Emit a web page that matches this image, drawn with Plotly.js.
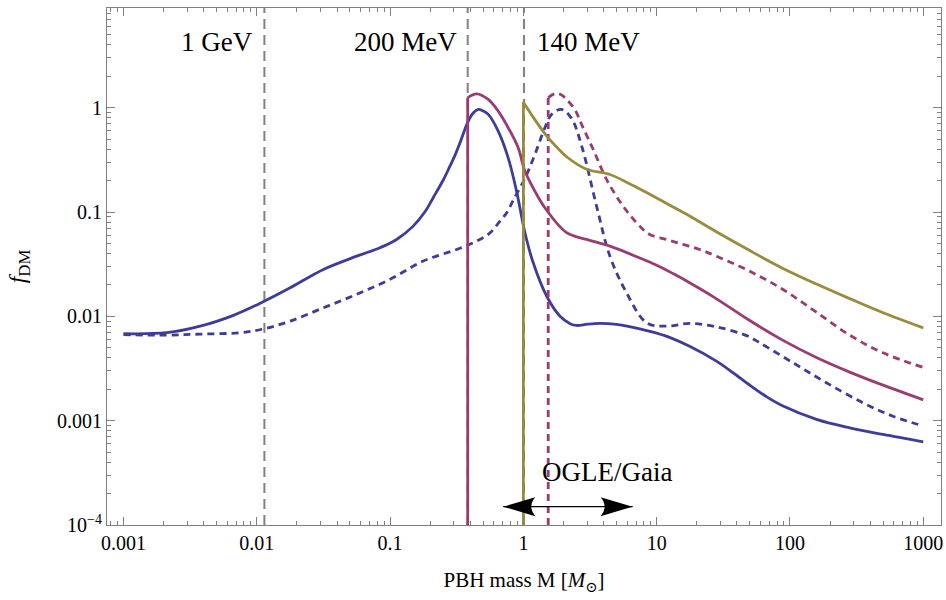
<!DOCTYPE html>
<html><head><meta charset="utf-8">
<script src="https://cdn.plot.ly/plotly-3.0.1.min.js"></script>
<style>html,body{margin:0;padding:0;background:#fff}</style>
</head><body><div id="chart" style="width:946px;height:600px"></div>
<script>
// ---- data (PBH mass in solar masses, f_DM) ----
const massBlue = [0.001, 0.00211, 0.00376, 0.00668, 0.01, 0.0178, 0.0316, 0.0562, 0.084, 0.112, 0.149, 0.182, 0.211, 0.251, 0.281, 0.306, 0.336, 0.382, 0.42, 0.458, 0.50, 0.545, 0.647, 0.769, 0.889, 1.026, 1.183, 1.493, 1.875, 2.24, 2.51, 3.02, 3.74, 5.0, 7.46, 11.8, 17.8, 28.05, 37.4, 49.9, 66.5, 88.7, 158, 281, 499, 1000];
const fBlue = [0.00681, 0.00697, 0.00805, 0.01023, 0.01288, 0.01879, 0.02818, 0.03776, 0.0455, 0.0546, 0.0733, 0.100, 0.138, 0.204, 0.275, 0.347, 0.468, 0.724, 0.891, 0.964, 0.93, 0.863, 0.597, 0.331, 0.158, 0.0637, 0.0328, 0.01567, 0.01007, 0.00851, 0.00818, 0.00841, 0.00855, 0.00836, 0.00759, 0.00646, 0.00513, 0.00372, 0.00288, 0.00219, 0.0017, 0.00138, 0.00103, 0.000855, 0.000738, 0.000628];

const massBlueDot = [0.001, 0.00211, 0.00376, 0.0075, 0.01135, 0.0178, 0.0316, 0.0562, 0.1, 0.1775, 0.316, 0.446, 0.562, 0.667, 0.748, 0.839, 1.026, 1.219, 1.449, 1.626, 1.93, 2.296, 2.75, 3.54, 4.457, 5.94, 8.39, 11.83, 17.7, 28.05, 48.4, 59.3, 105.4, 187.5, 352, 592, 1000];
const fBlueDot = [0.00668, 0.00661, 0.00676, 0.00697, 0.0076, 0.0090, 0.01208, 0.01626, 0.02265, 0.0339, 0.0438, 0.0526, 0.0631, 0.082, 0.098, 0.13, 0.21, 0.356, 0.643, 0.863, 0.964, 0.79, 0.42, 0.114, 0.03776, 0.01683, 0.00869, 0.00805, 0.00855, 0.00794, 0.00646, 0.00558, 0.00359, 0.00231, 0.001486, 0.001104, 0.00089];

const massPurple = [0.382, 0.446, 0.545, 0.647, 0.769, 0.914, 1.026, 1.219, 1.449, 2.109, 2.979, 4.457, 7.46, 10, 13.27, 17.8, 27.2, 49.9, 88.7, 157.8, 280.5, 498.9, 1000];
const fPurple = [1.25, 1.36, 1.2, 0.927, 0.643, 0.413, 0.247, 0.1585, 0.11, 0.0634, 0.0546, 0.0471, 0.0363, 0.0309, 0.0257, 0.0209, 0.01514, 0.00912, 0.00589, 0.00403, 0.00292, 0.00219, 0.001585];

const massPurpleDot = [1.535, 1.722, 1.905, 2.109, 2.43, 2.75, 3.342, 4.207, 5.598, 7.46, 8.87, 11.83, 15.78, 21.04, 28.05, 49.9, 88.7, 157.8, 280.5, 498.9, 1000];
const fPurpleDot = [1.25, 1.36, 1.34, 1.2, 0.964, 0.68, 0.398, 0.2056, 0.114, 0.0733, 0.061, 0.0546, 0.049, 0.0438, 0.03776, 0.0271, 0.0181, 0.01096, 0.0066, 0.00447, 0.00324];

const massOlive = [1.0, 1.183, 1.29, 1.493, 1.722, 2.109, 2.979, 4.457, 6.31, 8.87, 13.27, 17.78, 27.2, 49.9, 88.7, 157.8, 280.5, 498.9, 1000];
const fOlive = [1.13, 0.813, 0.692, 0.537, 0.437, 0.339, 0.257, 0.229, 0.186, 0.148, 0.112, 0.0912, 0.0661, 0.0427, 0.0288, 0.0204, 0.01479, 0.01084, 0.00776];

const fFloor = 1e-4;                       // bottom of the f_DM axis
const qcdMass = [0.0114, 0.382, 1.01];     // dashed marker masses
const qcdLabels = ['1 GeV', '200 MeV', '140 MeV'];
const ogleRange = [0.706, 6.6];            // OGLE/Gaia arrow extent
const ogleLevel = 1.5e-4;
const ogleLabel = 'OGLE/Gaia';
const ogleLabelMass = 1.33;

const xTickVals = [0.001, 0.01, 0.1, 1, 10, 100, 1000];
const xTickText = ['0.001', '0.01', '0.1', '1', '10', '100', '1000'];
const yTickVals = [1e-4, 0.001, 0.01, 0.1, 1];
const yTickText = ['10<sup>−4</sup>', '0.001', '0.01', '0.1', '1'];

// ---- styling ----
const BLUE = '#3d3d99', PURPLE = '#993d71', OLIVE = '#998b3d', GRAY = '#808080';
const FONT = '"Liberation Serif", "Times New Roman", "DejaVu Serif", serif';
const LW = 2.8, DOT = '7px,5px';

function minorTicks(lo, hi) {
  const v = [];
  for (let e = lo; e <= hi; e++) for (let m = 2; m <= 9; m++) v.push(m * Math.pow(10, e));
  return v;
}

function curve(x, y, color, dash) {
  return {x: x, y: y, type: 'scatter', mode: 'lines', hoverinfo: 'skip', showlegend: false,
          line: {color: color, width: LW, dash: dash, shape: 'spline', smoothing: 1}};
}
function edge(x, y, color, dash) {
  return {x: [x[0], x[0]], y: [fFloor, y[0]], type: 'scatter', mode: 'lines', hoverinfo: 'skip', showlegend: false,
          line: {color: color, width: LW, dash: dash}};
}

const data = [
  curve(massBlueDot, fBlueDot, BLUE, DOT),
  curve(massBlue, fBlue, BLUE, 'solid'),
  edge(massPurpleDot, fPurpleDot, PURPLE, DOT),
  curve(massPurpleDot, fPurpleDot, PURPLE, DOT),
  edge(massPurple, fPurple, PURPLE, 'solid'),
  curve(massPurple, fPurple, PURPLE, 'solid'),
  edge(massOlive, fOlive, OLIVE, 'solid'),
  curve(massOlive, fOlive, OLIVE, 'solid')
];

const shapes = qcdMass.map(m => ({
  type: 'line', xref: 'x', yref: 'paper', x0: m, x1: m, y0: 0, y1: 1, layer: 'below',
  line: {color: GRAY, width: 2, dash: '10px,6px'}
}));
shapes.push({type: 'line', xref: 'x', yref: 'y', x0: ogleRange[0], x1: ogleRange[1], y0: ogleLevel, y1: ogleLevel,
             line: {color: '#000', width: 1.3}});
shapes.push({type: 'path', xref: 'x', yref: 'y', xsizemode: 'pixel', ysizemode: 'pixel',
             xanchor: ogleRange[0], yanchor: ogleLevel, path: 'M0,0 L32,9.5 Q24,0 32,-9.5 Z',
             fillcolor: '#000', line: {width: 0}});
shapes.push({type: 'path', xref: 'x', yref: 'y', xsizemode: 'pixel', ysizemode: 'pixel',
             xanchor: ogleRange[1], yanchor: ogleLevel, path: 'M0,0 L-32,9.5 Q-24,0 -32,-9.5 Z',
             fillcolor: '#000', line: {width: 0}});

const annotations = qcdLabels.map((t, i) => ({
  text: t, xref: 'x', yref: 'paper', x: Math.log10(qcdMass[i]), y: 0.935,
  xanchor: i < 2 ? 'right' : 'left', yanchor: 'middle', xshift: i < 2 ? -9 : 11,
  showarrow: false, font: {family: FONT, size: 27, color: '#000'}
}));
annotations.push({text: ogleLabel, xref: 'x', yref: 'paper', x: Math.log10(ogleLabelMass), y: 0.103,
  xanchor: 'left', yanchor: 'middle', showarrow: false, font: {family: FONT, size: 27, color: '#000'}});

const axisCommon = {
  type: 'log', showgrid: false, zeroline: false, showline: true, linecolor: GRAY, linewidth: 1,
  mirror: 'ticks', ticks: 'inside', ticklen: 8, tickwidth: 1, tickcolor: GRAY,
  tickfont: {family: FONT, size: 20, color: '#000'}
};

const layout = {
  width: 946, height: 600,
  margin: {l: 107, r: 5, t: 8, b: 75},
  paper_bgcolor: '#fff', plot_bgcolor: '#fff',
  font: {family: FONT, color: '#000'},
  showlegend: false,
  xaxis: Object.assign({}, axisCommon, {
    range: [-3.124, 3.133], tickmode: 'array', tickvals: xTickVals, ticktext: xTickText,
    minor: {tickmode: 'array', tickvals: minorTicks(-4, 3), ticks: 'inside', ticklen: 4, tickcolor: GRAY, showgrid: false},
    title: {text: 'PBH mass M [<i>M</i><sub>⊙</sub>]', font: {family: FONT, size: 21, color: '#000'}, standoff: 19}
  }),
  yaxis: Object.assign({}, axisCommon, {
    range: [-4, 0.956], tickmode: 'array', tickvals: yTickVals, ticktext: yTickText,
    minor: {tickmode: 'array', tickvals: minorTicks(-5, 0), ticks: 'inside', ticklen: 4, tickcolor: GRAY, showgrid: false},
    title: {text: '<i>f</i><sub>DM</sub>', font: {family: FONT, size: 24, color: '#000'}, standoff: 24}
  }),
  shapes: shapes,
  annotations: annotations
};

Plotly.newPlot('chart', data, layout, {staticPlot: true, displayModeBar: false});
</script>
</body></html>
